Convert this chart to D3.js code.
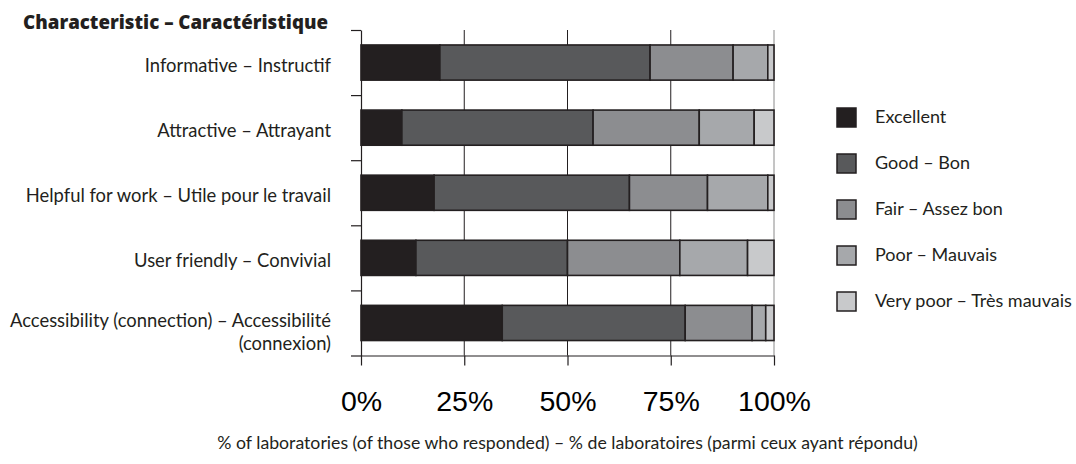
<!DOCTYPE html>
<html>
<head>
<meta charset="utf-8">
<script src="https://cdn.jsdelivr.net/npm/d3@7"></script>
<style>
  body { margin: 0; background: #fff; }
  svg { display: block; }
  .lbl { font-family: Lato, "Open Sans", sans-serif; fill: #231f20; }
</style>
</head>
<body>
<div class="chart"></div>
<script>
"use strict";

const categoryLines = [
  ["Informative – Instructif"],
  ["Attractive – Attrayant"],
  ["Helpful for work – Utile pour le travail"],
  ["User friendly – Convivial"],
  ["Accessibility (connection) – Accessibilité", "(connexion)"],
];
const categories = categoryLines.map((d) => d.join(" "));

const ratings = ["Excellent", "Good – Bon", "Fair – Assez bon", "Poor – Mauvais", "Very poor – Très mauvais"];

// % per rating, one array per rating, in category order
const excellent = [19.1, 9.9, 17.7, 13.3, 34.2];
const good = [50.9, 46.3, 47.3, 36.7, 44.3];
const fair = [20.1, 25.7, 18.9, 27.2, 16.2];
const poor = [8.4, 13.3, 14.6, 16.4, 3.3];
const veryPoor = [1.5, 4.8, 1.5, 6.4, 2.0];

const xTicks = [0, 25, 50, 75, 100];
const chartTitle = "Characteristic – Caractéristique";
const axisTitle = "% of laboratories (of those who responded) – % de laboratoires (parmi ceux ayant répondu)";

const colors = ["#231f20", "#58595b", "#8c8d90", "#a6a8ab", "#c8c9cb"];
const ink = "#231f20";

const W = 1076, H = 464;
const plotLeft = 361, plotRight = 774, plotTop = 30, plotBottom = 355.5;

const rows = categories.map((c, i) => ({
  cat: c,
  [ratings[0]]: excellent[i],
  [ratings[1]]: good[i],
  [ratings[2]]: fair[i],
  [ratings[3]]: poor[i],
  [ratings[4]]: veryPoor[i],
}));

const stacked = d3.stack().keys(ratings)(rows);

const svg = d3
  .select(".chart")
  .append("svg")
  .attr("width", W)
  .attr("height", H);

const x = d3.scaleLinear().domain([0, 100]).range([plotLeft, plotRight]);
const y = d3
  .scaleBand()
  .domain(categories)
  .range([plotTop, plotBottom])
  .paddingInner(0.46)
  .paddingOuter(0.23);
// boundaries between the bands, for the y-axis ticks
const yEdge = d3.scaleLinear().domain([0, categories.length]).range([plotTop, plotBottom]);

// grid lines
svg
  .append("g")
  .selectAll("line")
  .data(xTicks.slice(1))
  .join("line")
  .attr("x1", (d) => x(d))
  .attr("x2", (d) => x(d))
  .attr("y1", plotTop)
  .attr("y2", plotBottom)
  .attr("stroke", (d) => (d === 100 ? "#8a8a8a" : ink))
  .attr("stroke-width", 1);

// bars
svg
  .append("g")
  .selectAll("g")
  .data(stacked)
  .join("g")
  .attr("fill", (d, i) => colors[i])
  .selectAll("rect")
  .data((d) => d)
  .join("rect")
  .attr("x", (d) => x(d[0]))
  .attr("y", (d) => y(d.data.cat))
  .attr("width", (d) => x(d[1]) - x(d[0]))
  .attr("height", y.bandwidth())
  .attr("stroke", ink)
  .attr("stroke-width", 1.6);

// y axis (ticks between categories)
const yAxis = d3
  .axisLeft(yEdge)
  .tickValues(d3.range(categories.length + 1))
  .tickFormat("")
  .tickSize(10)
  .tickSizeOuter(0);
svg
  .append("g")
  .attr("transform", `translate(${plotLeft},0)`)
  .call(yAxis)
  .call((g) => g.selectAll("line, path").attr("stroke", ink).attr("stroke-width", 1.2));

// x axis
const xAxis = d3
  .axisBottom(x)
  .tickValues(xTicks)
  .tickFormat((d) => d + "%")
  .tickSize(10)
  .tickSizeOuter(0)
  .tickPadding(25);
svg
  .append("g")
  .attr("transform", `translate(0,${plotBottom})`)
  .call(xAxis)
  .call((g) => g.selectAll("line, path").attr("stroke", ink).attr("stroke-width", 1.2))
  .call((g) =>
    g
      .selectAll("text")
      .attr("font-family", "'Liberation Sans', Arial, sans-serif")
      .attr("font-size", "28.5px")
      .attr("fill", "#000")
  );

// category labels
const labels = svg
  .append("g")
  .attr("class", "lbl")
  .attr("font-size", "18.4px")
  .attr("text-anchor", "end")
  .selectAll("text")
  .data(categoryLines)
  .join("text")
  .attr("x", 331)
  .attr("y", (d, i) => y(categories[i]) + y.bandwidth() / 2 + (d.length > 1 ? 4 : 9.5));
labels
  .selectAll("tspan")
  .data((d) => d)
  .join("tspan")
  .attr("x", 331)
  .attr("dy", (d, i) => (i === 0 ? 0 : 23))
  .text((d) => d);

// title
svg
  .append("text")
  .attr("x", 328)
  .attr("y", 29)
  .attr("text-anchor", "end")
  .attr("font-family", "'Open Sans', Lato, sans-serif")
  .attr("font-size", "18.7px")
  .attr("font-weight", 800)
  .attr("fill", ink)
  .text(chartTitle);

// axis title
svg
  .append("text")
  .attr("class", "lbl")
  .attr("x", (plotLeft + plotRight) / 2)
  .attr("y", 449)
  .attr("text-anchor", "middle")
  .attr("font-size", "17.7px")
  .text(axisTitle);

// legend
const legend = svg
  .append("g")
  .selectAll("g")
  .data(ratings)
  .join("g")
  .attr("transform", (d, i) => `translate(837,${108 + i * 46})`);
legend
  .append("rect")
  .attr("width", 19)
  .attr("height", 19)
  .attr("fill", (d, i) => colors[i])
  .attr("stroke", ink)
  .attr("stroke-width", 1.5);
legend
  .append("text")
  .attr("class", "lbl")
  .attr("x", 38)
  .attr("y", 15)
  .attr("font-size", "18px")
  .text((d) => d);
</script>
</body>
</html>
